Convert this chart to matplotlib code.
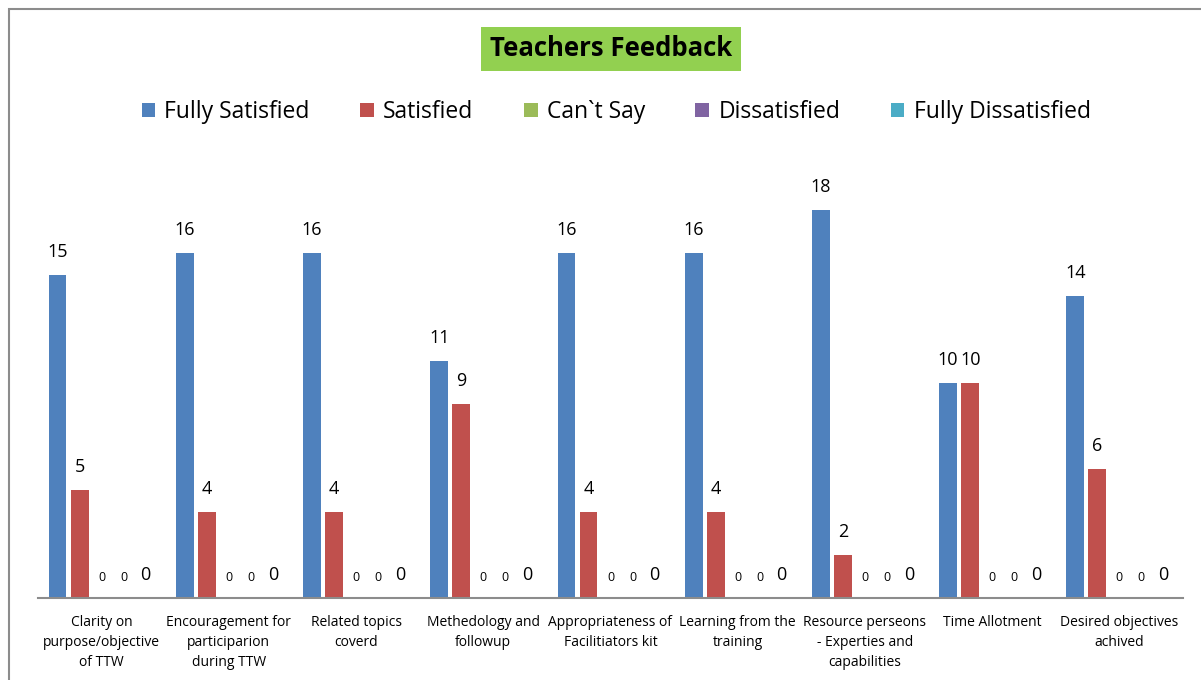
import matplotlib
matplotlib.use("Agg")
import matplotlib.pyplot as plt
import numpy as np
from matplotlib.patches import Rectangle

categories = [
    "Clarity on\npurpose/objective\nof TTW",
    "Encouragement for\nparticiparion\nduring TTW",
    "Related topics\ncoverd",
    "Methedology and\nfollowup",
    "Appropriateness of\nFacilitiators kit",
    "Learning from the\ntraining",
    "Resource perseons\n- Experties and\ncapabilities",
    "Time Allotment",
    "Desired objectives\nachived",
]
series_names = ["Fully Satisfied", "Satisfied", "Can`t Say", "Dissatisfied", "Fully Dissatisfied"]
fully_satisfied = [15, 16, 16, 11, 16, 16, 18, 10, 14]
satisfied = [5, 4, 4, 9, 4, 4, 2, 10, 6]
cant_say = [0, 0, 0, 0, 0, 0, 0, 0, 0]
dissatisfied = [0, 0, 0, 0, 0, 0, 0, 0, 0]
fully_dissatisfied = [0, 0, 0, 0, 0, 0, 0, 0, 0]

colors = ["#4F81BD", "#C0504D", "#9BBB59", "#8064A2", "#4BACC6"]
label_sizes = [13, 13, 9, 9, 13]

plt.rcParams["font.family"] = ["Open Sans", "DejaVu Sans"]

W, H = 1201, 680
fig = plt.figure(figsize=(W / 100, H / 100), dpi=100)
ax = fig.add_axes([38 / W, 1 - 598 / H, (1183 - 38) / W, (598 - 167) / H])

# outer chart frame (right and bottom edges fall outside the picture)
fig.patches.append(Rectangle((9 / W, -0.1), 1.2, 1 - 9 / H + 0.1, transform=fig.transFigure,
                             fill=False, edgecolor="#8C8C8C", linewidth=1.5))

x = np.arange(len(categories))
step = 0.173
width = 0.14
all_series = [fully_satisfied, satisfied, cant_say, dissatisfied, fully_dissatisfied]
for i, (name, vals) in enumerate(zip(series_names, all_series)):
    offs = (i - 2) * step
    bars = ax.bar(x + offs, vals, width, color=colors[i], label=name)
    for b, v in zip(bars, vals):
        ax.annotate(f"{v}", (b.get_x() + b.get_width() / 2, v), xytext=(0, 10),
                    textcoords="offset points", ha="center", va="bottom",
                    fontsize=label_sizes[i])

ax.set_xlim(-0.5, len(categories) - 0.5)
ax.set_ylim(0, 20)
ax.set_xticks(x)
ax.set_xticklabels(categories, fontsize=10, linespacing=1.45)
ax.tick_params(axis="x", length=0, pad=12)
ax.set_yticks([])
for s in ["top", "right", "left"]:
    ax.spines[s].set_visible(False)
ax.spines["bottom"].set_color("#8C8C8C")
ax.spines["bottom"].set_linewidth(1.5)

fig.text(611 / W, 1 - 49 / H, "Teachers Feedback", ha="center", va="center",
         fontsize=18.5, fontweight="bold",
         bbox=dict(boxstyle="square,pad=0.35", facecolor="#92D050", edgecolor="none"))

fig.legend(loc="center", bbox_to_anchor=(616 / W, 1 - 112 / H), ncol=5, frameon=False,
           fontsize=16.5, handlelength=0.6, handleheight=0.6, handletextpad=0.4,
           columnspacing=2.2)

fig.savefig("out.png", dpi=100)
